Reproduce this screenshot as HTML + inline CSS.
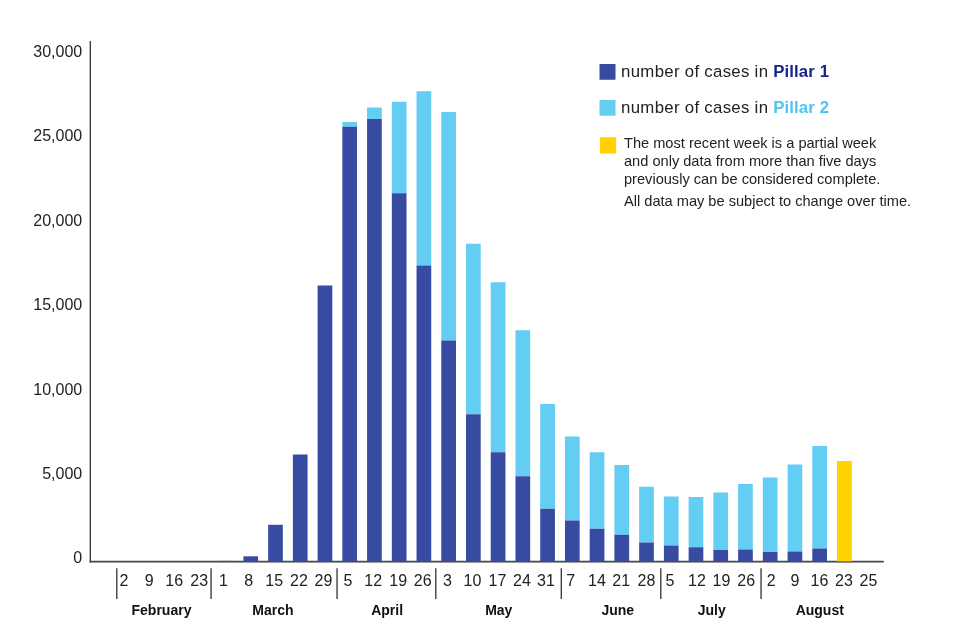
<!DOCTYPE html>
<html lang="en"><head><meta charset="utf-8"><title>Number of cases by pillar</title>
<style>
html,body{margin:0;padding:0;background:#fff;}
body{width:960px;height:640px;overflow:hidden;font-family:"Liberation Sans",sans-serif;}
svg{display:block;}
svg text{font-family:"Liberation Sans",sans-serif;fill:#222;}
.yl text{font-size:16px;}
.dl text{font-size:16px;}
.mo text{font-size:14px;font-weight:bold;fill:#111;}
.lg text{font-size:16.8px;letter-spacing:0.3px;}
.lg tspan{letter-spacing:0.1px;}
.nt text{font-size:14.6px;}
</style></head><body>
<svg width="960" height="640" viewBox="0 0 960 640">
<rect width="960" height="640" fill="#fff"/>
<rect x="89.65" y="41" width="1.3" height="521.6" fill="#333"/>
<rect x="89.65" y="560.75" width="794.1" height="1.8" fill="#4a4a4a"/>
<g class="bars">
<rect x="218.67" y="560.9" width="14.7" height="0.90" fill="#374ba2"/>
<rect x="243.40" y="556.3" width="14.7" height="5.50" fill="#374ba2"/>
<rect x="268.13" y="524.8" width="14.7" height="37.00" fill="#374ba2"/>
<rect x="292.87" y="454.5" width="14.7" height="107.30" fill="#374ba2"/>
<rect x="317.61" y="285.5" width="14.7" height="276.30" fill="#374ba2"/>
<rect x="342.34" y="122" width="14.7" height="4.75" fill="#64cdf4"/>
<rect x="342.34" y="126.75" width="14.7" height="435.05" fill="#374ba2"/>
<rect x="367.07" y="107.5" width="14.7" height="11.50" fill="#64cdf4"/>
<rect x="367.07" y="119" width="14.7" height="442.80" fill="#374ba2"/>
<rect x="391.81" y="101.75" width="14.7" height="91.50" fill="#64cdf4"/>
<rect x="391.81" y="193.25" width="14.7" height="368.55" fill="#374ba2"/>
<rect x="416.54" y="91.25" width="14.7" height="174.25" fill="#64cdf4"/>
<rect x="416.54" y="265.5" width="14.7" height="296.30" fill="#374ba2"/>
<rect x="441.28" y="112" width="14.7" height="228.50" fill="#64cdf4"/>
<rect x="441.28" y="340.5" width="14.7" height="221.30" fill="#374ba2"/>
<rect x="466.01" y="243.75" width="14.7" height="170.50" fill="#64cdf4"/>
<rect x="466.01" y="414.25" width="14.7" height="147.55" fill="#374ba2"/>
<rect x="490.75" y="282.25" width="14.7" height="170.00" fill="#64cdf4"/>
<rect x="490.75" y="452.25" width="14.7" height="109.55" fill="#374ba2"/>
<rect x="515.49" y="330.25" width="14.7" height="146.00" fill="#64cdf4"/>
<rect x="515.49" y="476.25" width="14.7" height="85.55" fill="#374ba2"/>
<rect x="540.22" y="404" width="14.7" height="104.75" fill="#64cdf4"/>
<rect x="540.22" y="508.75" width="14.7" height="53.05" fill="#374ba2"/>
<rect x="564.96" y="436.5" width="14.7" height="84.00" fill="#64cdf4"/>
<rect x="564.96" y="520.5" width="14.7" height="41.30" fill="#374ba2"/>
<rect x="589.69" y="452.25" width="14.7" height="76.50" fill="#64cdf4"/>
<rect x="589.69" y="528.75" width="14.7" height="33.05" fill="#374ba2"/>
<rect x="614.42" y="465" width="14.7" height="69.75" fill="#64cdf4"/>
<rect x="614.42" y="534.75" width="14.7" height="27.05" fill="#374ba2"/>
<rect x="639.16" y="486.75" width="14.7" height="55.75" fill="#64cdf4"/>
<rect x="639.16" y="542.5" width="14.7" height="19.30" fill="#374ba2"/>
<rect x="663.89" y="496.5" width="14.7" height="49.00" fill="#64cdf4"/>
<rect x="663.89" y="545.5" width="14.7" height="16.30" fill="#374ba2"/>
<rect x="688.63" y="497" width="14.7" height="50.25" fill="#64cdf4"/>
<rect x="688.63" y="547.25" width="14.7" height="14.55" fill="#374ba2"/>
<rect x="713.37" y="492.5" width="14.7" height="57.50" fill="#64cdf4"/>
<rect x="713.37" y="550" width="14.7" height="11.80" fill="#374ba2"/>
<rect x="738.10" y="484" width="14.7" height="65.50" fill="#64cdf4"/>
<rect x="738.10" y="549.5" width="14.7" height="12.30" fill="#374ba2"/>
<rect x="762.83" y="477.5" width="14.7" height="74.50" fill="#64cdf4"/>
<rect x="762.83" y="552" width="14.7" height="9.80" fill="#374ba2"/>
<rect x="787.57" y="464.5" width="14.7" height="87.00" fill="#64cdf4"/>
<rect x="787.57" y="551.5" width="14.7" height="10.30" fill="#374ba2"/>
<rect x="812.30" y="446" width="14.7" height="102.50" fill="#64cdf4"/>
<rect x="812.30" y="548.5" width="14.7" height="13.30" fill="#374ba2"/>
<rect x="837" y="461" width="14.8" height="100.50" fill="#ffd200"/>
<rect x="837" y="561.50" width="14.8" height="0.8" fill="#374ba2" opacity="0.6"/>
</g>
<g class="ticks">
<rect x="116.15" y="568.25" width="1.3" height="30.75" fill="#333"/>
<rect x="210.40" y="568.25" width="1.3" height="30.75" fill="#333"/>
<rect x="336.40" y="568.25" width="1.3" height="30.75" fill="#333"/>
<rect x="435.15" y="568.25" width="1.3" height="30.75" fill="#333"/>
<rect x="560.65" y="568.25" width="1.3" height="30.75" fill="#333"/>
<rect x="660.15" y="568.25" width="1.3" height="30.75" fill="#333"/>
<rect x="760.40" y="568.25" width="1.3" height="30.75" fill="#333"/>
</g>
<g class="yl">
<text x="82.2" y="57.0" text-anchor="end">30,000</text>
<text x="82.2" y="141.4" text-anchor="end">25,000</text>
<text x="82.2" y="225.8" text-anchor="end">20,000</text>
<text x="82.2" y="310.2" text-anchor="end">15,000</text>
<text x="82.2" y="394.6" text-anchor="end">10,000</text>
<text x="82.2" y="479.0" text-anchor="end">5,000</text>
<text x="82.2" y="563.4" text-anchor="end">0</text>
</g>
<g class="dl">
<text x="124" y="586.1" text-anchor="middle">2</text>
<text x="149.25" y="586.1" text-anchor="middle">9</text>
<text x="174.25" y="586.1" text-anchor="middle">16</text>
<text x="199.25" y="586.1" text-anchor="middle">23</text>
<text x="223.5" y="586.1" text-anchor="middle">1</text>
<text x="248.75" y="586.1" text-anchor="middle">8</text>
<text x="274.25" y="586.1" text-anchor="middle">15</text>
<text x="299" y="586.1" text-anchor="middle">22</text>
<text x="323.5" y="586.1" text-anchor="middle">29</text>
<text x="348" y="586.1" text-anchor="middle">5</text>
<text x="373.25" y="586.1" text-anchor="middle">12</text>
<text x="398.25" y="586.1" text-anchor="middle">19</text>
<text x="422.75" y="586.1" text-anchor="middle">26</text>
<text x="447.5" y="586.1" text-anchor="middle">3</text>
<text x="472.5" y="586.1" text-anchor="middle">10</text>
<text x="497.5" y="586.1" text-anchor="middle">17</text>
<text x="522" y="586.1" text-anchor="middle">24</text>
<text x="546" y="586.1" text-anchor="middle">31</text>
<text x="570.75" y="586.1" text-anchor="middle">7</text>
<text x="597" y="586.1" text-anchor="middle">14</text>
<text x="621.25" y="586.1" text-anchor="middle">21</text>
<text x="646.5" y="586.1" text-anchor="middle">28</text>
<text x="670" y="586.1" text-anchor="middle">5</text>
<text x="697" y="586.1" text-anchor="middle">12</text>
<text x="721.5" y="586.1" text-anchor="middle">19</text>
<text x="746.25" y="586.1" text-anchor="middle">26</text>
<text x="771.25" y="586.1" text-anchor="middle">2</text>
<text x="795" y="586.1" text-anchor="middle">9</text>
<text x="819.5" y="586.1" text-anchor="middle">16</text>
<text x="844" y="586.1" text-anchor="middle">23</text>
<text x="868.5" y="586.1" text-anchor="middle">25</text>
</g>
<g class="mo">
<text x="161.5" y="615" text-anchor="middle">February</text>
<text x="272.9" y="615" text-anchor="middle">March</text>
<text x="387.1" y="615" text-anchor="middle">April</text>
<text x="498.75" y="615" text-anchor="middle">May</text>
<text x="617.75" y="615" text-anchor="middle">June</text>
<text x="711.75" y="615" text-anchor="middle">July</text>
<text x="819.75" y="615" text-anchor="middle">August</text>
</g>
<g class="lg">
<rect x="599.5" y="64" width="16" height="15.75" fill="#374ba2"/>
<text x="621.1" y="76.75">number of cases in <tspan font-weight="bold" fill="#17228f">Pillar 1</tspan></text>
<rect x="599.5" y="100" width="16" height="15.75" fill="#64cdf4"/>
<text x="621.1" y="112.5">number of cases in <tspan font-weight="bold" fill="#4fc3f1">Pillar 2</tspan></text>
</g>
<g class="nt">
<rect x="599.9" y="137.2" width="16.3" height="16.3" fill="#ffd200"/>
<text x="624" y="147.5">The most recent week is a partial week</text>
<text x="624" y="165.9">and only data from more than five days</text>
<text x="624" y="183.9">previously can be considered complete.</text>
<text x="624" y="206.4">All data may be subject to change over time.</text>
</g>
</svg>
</body></html>
